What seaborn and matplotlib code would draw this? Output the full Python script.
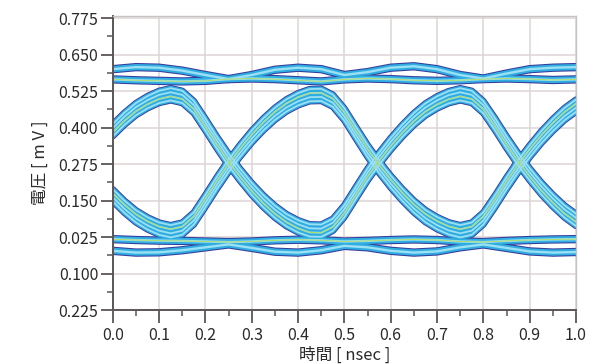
import numpy as np
import pandas as pd
import matplotlib.pyplot as plt
import seaborn as sns
from matplotlib.ticker import FixedLocator, MultipleLocator

# time axis of the transition traces (ns)
t_edge = np.round(np.arange(0, 1.0001, 0.025), 3)

# transition trace that is high at 0.13 ns
trace_fall = [0.391, 0.430, 0.463, 0.487, 0.505, 0.514, 0.505, 0.470, 0.410, 0.348,
              0.290, 0.238, 0.190, 0.148, 0.112, 0.083, 0.062, 0.048, 0.047, 0.067,
              0.114, 0.177, 0.239, 0.294, 0.344, 0.389, 0.429, 0.462, 0.486, 0.504,
              0.514, 0.505, 0.470, 0.412, 0.350, 0.292, 0.240, 0.192, 0.150, 0.113,
              0.084]
# transition trace that is low at 0.13 ns
trace_rise = [0.168, 0.129, 0.096, 0.072, 0.054, 0.045, 0.054, 0.089, 0.149, 0.211,
              0.269, 0.321, 0.369, 0.411, 0.447, 0.476, 0.497, 0.511, 0.512, 0.492,
              0.445, 0.382, 0.320, 0.265, 0.215, 0.170, 0.130, 0.097, 0.073, 0.055,
              0.045, 0.054, 0.089, 0.147, 0.209, 0.267, 0.319, 0.367, 0.409, 0.446,
              0.475]
# spread of the strands inside one bundle
bundle_spread = [-0.021, -0.007, 0.007, 0.021]

# steady high / steady low strands
t_level = np.round(np.arange(0, 1.0001, 0.05), 2)
high_upper = [0.600, 0.607, 0.605, 0.595, 0.580, 0.566, 0.580, 0.598, 0.605, 0.600, 0.580,
              0.590, 0.605, 0.610, 0.600, 0.580, 0.568, 0.585, 0.600, 0.605, 0.607]
high_lower = [0.565, 0.562, 0.560, 0.558, 0.560, 0.566, 0.568, 0.566, 0.562, 0.558, 0.565,
              0.568, 0.566, 0.562, 0.560, 0.562, 0.566, 0.568, 0.566, 0.563, 0.565]
low_upper = [0.018, 0.015, 0.013, 0.012, 0.010, 0.008, 0.010, 0.014, 0.016, 0.014, 0.010,
             0.012, 0.015, 0.017, 0.015, 0.010, 0.008, 0.012, 0.015, 0.017, 0.018]
low_lower = [-0.022, -0.028, -0.027, -0.020, -0.010, 0.000, -0.012, -0.025, -0.028, -0.020, -0.005,
             -0.010, -0.022, -0.028, -0.024, -0.010, 0.000, -0.012, -0.024, -0.028, -0.026]

y_ticks = [0.775, 0.650, 0.525, 0.400, 0.275, 0.150, 0.025, -0.100, -0.225]
y_labels = ["0.775", "0.650", "0.525", "0.400", "0.275", "0.150", "0.025", "0.100", "0.225"]
x_ticks = [0.0, 0.1, 0.2, 0.3, 0.4, 0.5, 0.6, 0.7, 0.8, 0.9, 1.0]
x_labels = ["0.0", "0.1", "0.2", "0.3", "0.4", "0.5", "0.6", "0.7", "0.8", "0.9", "1.0"]

# long table of all strands
rows = []
for name, trace in [("fall", trace_fall), ("rise", trace_rise)]:
    for k, off in enumerate(bundle_spread):
        for t, v in zip(t_edge, trace):
            rows.append({"t": t, "v": v + off, "strand": f"{name}{k}"})
for name, trace in [("hu", high_upper), ("hl", high_lower), ("lu", low_upper), ("ll", low_lower)]:
    for t, v in zip(t_level, trace):
        rows.append({"t": t, "v": v, "strand": name})
df = pd.DataFrame(rows)
edges = df[df["strand"].str.startswith(("fall", "rise"))]
levels = df[~df["strand"].str.startswith(("fall", "rise"))]

sns.set_theme(style="white")
plt.rcParams["font.family"] = ["Noto Sans CJK JP", "DejaVu Sans"]

fig = plt.figure(figsize=(6.0, 3.64), dpi=100)
ax = fig.add_axes([0.188, 0.148, 0.772, 0.808])

# outline, body and highlight of each strand
for color, lw_edge, lw_level in [("#363c9c", 4.6, 6.0), ("#30ade0", 3.3, 4.5), ("#9be0f4", 1.3, 1.7)]:
    sns.lineplot(data=edges, x="t", y="v", units="strand", estimator=None, sort=False,
                 color=color, lw=lw_edge, ax=ax, legend=False)
    sns.lineplot(data=levels, x="t", y="v", units="strand", estimator=None, sort=False,
                 color=color, lw=lw_level, ax=ax, legend=False)
green = df[df["strand"].isin(["fall1", "rise2", "hl", "lu"])]
sns.lineplot(data=green, x="t", y="v", units="strand", estimator=None, sort=False,
             color="#b4dc3c", lw=0.7, alpha=0.75, ax=ax, legend=False)

ax.set_xlim(0, 1.0)
ax.set_ylim(-0.225, 0.782)
ax.yaxis.set_major_locator(FixedLocator(y_ticks))
ax.set_yticklabels(y_labels)
ax.yaxis.set_minor_locator(FixedLocator([v - 0.0625 for v in y_ticks[:-1]]))
ax.xaxis.set_major_locator(FixedLocator(x_ticks))
ax.set_xticklabels(x_labels)
ax.xaxis.set_minor_locator(MultipleLocator(0.05))

ax.grid(True, which="major", color="#ddd5d5", lw=1.1)
ax.set_axisbelow(True)
for side in ["left", "bottom"]:
    ax.spines[side].set_color("#5c5555")
    ax.spines[side].set_linewidth(1.4)
for side in ["top", "right"]:
    ax.spines[side].set_color("#c9c2c2")
    ax.spines[side].set_linewidth(1.0)

ax.tick_params(which="major", direction="out", length=9, width=1.3, color="#5c5555",
               labelsize=11.5, labelcolor="#2a2a2a", bottom=True, left=True)
ax.tick_params(which="minor", direction="out", length=4, width=1.1, color="#5c5555",
               bottom=True, left=True)
ax.tick_params(axis="y", pad=1.5)
ax.tick_params(axis="x", pad=3)

ax.set_xlabel("時間 [ nsec ]", fontsize=12, color="#2a2a2a", labelpad=2)
ax.set_ylabel("電圧 [ m V ]", fontsize=12, color="#2a2a2a", labelpad=7)

fig.savefig("out.png", dpi=100, facecolor="white")
